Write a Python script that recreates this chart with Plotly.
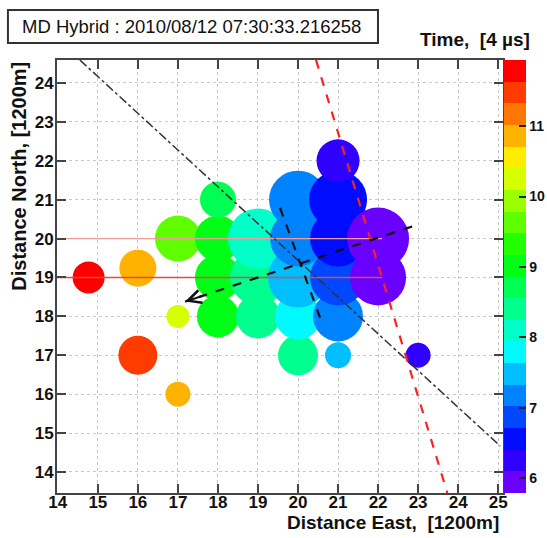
import plotly.graph_objects as go

# ---------------- data ----------------
hit_x = [14.77, 16.0, 16.0, 17.0, 17.0, 17.0, 18.0, 18.0, 18.0, 18.0, 19.0, 19.0, 19.0,
         20.0, 20.0, 20.0, 20.0, 20.0, 21.0, 21.0, 21.0, 21.0, 21.0, 21.0, 22.0, 22.0, 23.0]
hit_y = [19.0, 17.0, 19.24, 16.0, 18.0, 20.0, 18.0, 19.0, 20.0, 21.0, 18.0, 19.0, 20.0,
         17.0, 18.0, 19.0, 20.0, 21.0, 17.0, 18.0, 19.0, 20.0, 21.0, 22.0, 19.0, 20.0, 17.0]
hit_time = [11.79, 11.48, 10.87, 10.87, 10.25, 9.64, 9.02, 9.02, 9.02, 8.71, 8.41, 8.41, 8.10,
            8.41, 7.79, 7.48, 7.17, 7.17, 7.48, 7.17, 6.87, 6.56, 6.56, 6.25, 5.94, 5.94, 6.25]
hit_size = [32, 39, 37, 25, 23, 46, 42, 46, 46, 36, 44, 56, 60,
            40, 46, 60, 56, 58, 26, 50, 56, 56, 58, 43, 56, 62, 25]

x_ticks = [14, 15, 16, 17, 18, 19, 20, 21, 22, 23, 24, 25]
y_ticks = [14, 15, 16, 17, 18, 19, 20, 21, 22, 23, 24]
cbar_ticks = [6, 7, 8, 9, 10, 11]
time_min, time_max = 5.79, 11.94

shower_line_x = [14.55, 25.05]
shower_line_y = [24.59, 14.67]
red_line_x = [20.45, 23.73]
red_line_y = [24.59, 13.46]
axis_seg_x = [19.55, 20.55]
axis_seg_y = [20.79, 17.97]
arrow_x = [22.85, 17.18]
arrow_y = [20.31, 18.38]
hline_levels = [20, 19]
hline_x = [13.98, 22.1]

palette = ["#6A00FF", "#2F00FF", "#000CFF", "#0047FF", "#0083FF", "#00BEFF", "#00FAFF",
           "#00FFC9", "#00FF8E", "#00FF53", "#00FF17", "#24FF00", "#5FFF00", "#9AFF00",
           "#D6FF00", "#FFED00", "#FFB200", "#FF7700", "#FF3B00", "#FF0000"]

# --------------- figure ---------------
n = len(palette)
colorscale = []
for i, c in enumerate(palette):
    colorscale.append([i / n, c])
    colorscale.append([(i + 1) / n, c])

FONT = "Liberation Sans"
fig = go.Figure()

fig.add_trace(go.Scatter(
    x=hit_x, y=hit_y, mode="markers",
    marker=dict(size=hit_size, color=hit_time, colorscale=colorscale,
                cmin=time_min, cmax=time_max, opacity=1, line=dict(width=0),
                showscale=True,
                colorbar=dict(x=1.003, xanchor="left", xpad=0, y=0.5, yanchor="middle",
                              len=1.0, lenmode="fraction", ypad=0, thickness=22,
                              outlinewidth=0, tickvals=cbar_ticks, ticks="inside",
                              ticklen=7, tickwidth=2, tickcolor="#222",
                              tickfont=dict(family=FONT, size=14, color="#111", weight="bold"))),
    hoverinfo="skip"))

for lvl, col, w in zip(hline_levels, ["#f59a9a", "#e24a4a"], [1.2, 1.6]):
    fig.add_trace(go.Scatter(x=hline_x, y=[lvl, lvl], mode="lines",
                             line=dict(color=col, width=w), hoverinfo="skip"))

fig.add_trace(go.Scatter(x=shower_line_x, y=shower_line_y, mode="lines",
                         line=dict(color="#333", width=1.5, dash="dashdot"), hoverinfo="skip"))
fig.add_trace(go.Scatter(x=red_line_x, y=red_line_y, mode="lines",
                         line=dict(color="#ff2020", width=2.2, dash="dash"), hoverinfo="skip"))
fig.add_trace(go.Scatter(x=axis_seg_x, y=axis_seg_y, mode="lines",
                         line=dict(color="#111", width=2.2, dash="dash"), hoverinfo="skip"))
fig.add_trace(go.Scatter(x=arrow_x, y=arrow_y, mode="lines",
                         line=dict(color="#111", width=2.2, dash="dash"), hoverinfo="skip"))

head_back = 0.08
fig.add_annotation(x=arrow_x[1], y=arrow_y[1],
                   ax=arrow_x[1] + head_back * (arrow_x[0] - arrow_x[1]),
                   ay=arrow_y[1] + head_back * (arrow_y[0] - arrow_y[1]),
                   xref="x", yref="y", axref="x", ayref="y", text="",
                   showarrow=True, arrowhead=5, arrowsize=1.3, arrowwidth=2,
                   arrowcolor="#111", standoff=0)

axis_common = dict(showline=True, mirror="allticks", linewidth=2, linecolor="#444",
                   ticks="inside", ticklen=9, tickwidth=2, tickcolor="#444",
                   showgrid=True, gridcolor="#c8c8c8", griddash="dot", gridwidth=1,
                   zeroline=False, automargin=False,
                   tickfont=dict(family=FONT, size=17, color="#111", weight="bold"))
fig.update_xaxes(range=[13.98, 25.12], tickvals=x_ticks, ticklabelstandoff=-7, **axis_common)
fig.update_yaxes(range=[13.46, 24.59], tickvals=y_ticks, ticklabelstandoff=-2, **axis_common)

fig.add_annotation(x=0.995, y=-0.069, xref="paper", yref="paper", xanchor="right",
                   yanchor="middle", showarrow=False,
                   text="Distance East,&nbsp;&nbsp;[1200m]",
                   font=dict(family=FONT, size=19, color="#111", weight="bold"))
fig.add_annotation(x=-0.087, y=1.0, xref="paper", yref="paper", xanchor="center",
                   yanchor="top", showarrow=False, textangle=-90,
                   text="Distance North, [1200m]",
                   font=dict(family=FONT, size=20, color="#111", weight="bold"))

# title box
fig.add_shape(type="rect", xref="paper", yref="paper",
              x0=-0.11, x1=0.7197, y0=1.0393, y1=1.1155,
              line=dict(color="#333", width=2), fillcolor="white")
fig.add_annotation(x=-0.083, y=1.0774, xref="paper", yref="paper", xanchor="left",
                   yanchor="middle", showarrow=False,
                   text="MD Hybrid : 2010/08/12 07:30:33.216258",
                   font=dict(family=FONT, size=18.5, color="#111"))
fig.add_annotation(x=0.8094, y=1.0462, xref="paper", yref="paper", xanchor="left",
                   yanchor="middle", showarrow=False, text="Time,&nbsp;&nbsp;[4 µs]",
                   font=dict(family=FONT, size=19, color="#111", weight="bold"))

fig.update_layout(width=547, height=538,
                  margin=dict(l=57, r=44, t=60, b=45, autoexpand=False),
                  plot_bgcolor="white", paper_bgcolor="white", showlegend=False)

fig.write_html("out.html", config={"displayModeBar": False},
               post_script="document.body.style.margin='0';document.body.style.overflow='hidden';")
